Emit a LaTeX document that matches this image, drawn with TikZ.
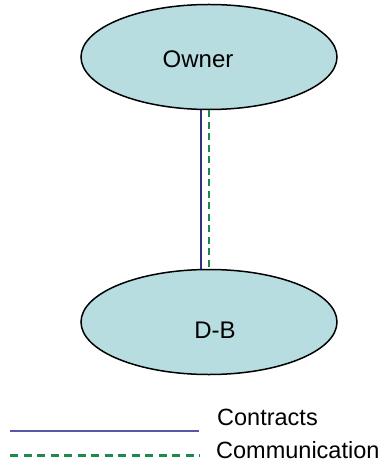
\documentclass[tikz,border=0pt]{standalone}
\usepackage{fontspec}
\setmainfont{Liberation Sans}
\usetikzlibrary{shapes.geometric}
\definecolor{partyfill}{RGB}{183,221,224}
\definecolor{contractblue}{RGB}{46,48,128}
\definecolor{legendblue}{RGB}{88,88,168}
\definecolor{commgreen}{RGB}{30,138,74}
\tikzset{
  party/.style={ellipse, draw=black, line width=1.5pt, fill=partyfill,
    minimum width=256pt, minimum height=105pt, inner sep=0pt},
  partytext/.style={anchor=base, inner sep=0pt, font=\fontsize{24}{28}\selectfont},
  contractline/.style={draw=contractblue, line width=2pt},
  commline/.style={draw=commgreen, line width=2pt, dash pattern=on 7pt off 4.5pt},
  legendcontract/.style={draw=legendblue, line width=1.3pt},
  legendcomm/.style={draw=commgreen, line width=3pt, dash pattern=on 8pt off 5.5pt},
  legendtext/.style={anchor=base west, inner sep=0pt, font=\fontsize{23.5}{28}\selectfont}
}
\begin{document}
\begin{tikzpicture}[x=1pt, y=-1pt]
  \useasboundingbox (0,0) rectangle (385,462);

  % the two parties
  \node[party] (owner) at (209,57) {};
  \node[party] (db) at (209,322) {};
  \node[partytext] (ownerlabel) at (198,68) {Owner};
  \node[partytext] (dblabel) at (215,338) {D-B};

  % contract and communication links
  \draw[contractline] ([xshift=-8pt]owner.south) -- ([xshift=-8pt]db.north);
  \draw[commline] (owner.south) -- (db.north);

  % legend
  \coordinate (lc1) at (10,431);
  \coordinate (lc2) at (199,431);
  \coordinate (lg1) at (10,455);
  \coordinate (lg2) at (200,455);
  \draw[legendcontract] (lc1) -- (lc2);
  \draw[legendcomm] (lg1) -- (lg2);
  \node[legendtext] (contractskey) at (217,425) {Contracts};
  \node[legendtext] (commkey) at (216,458) {Communication};
\end{tikzpicture}
\end{document}
